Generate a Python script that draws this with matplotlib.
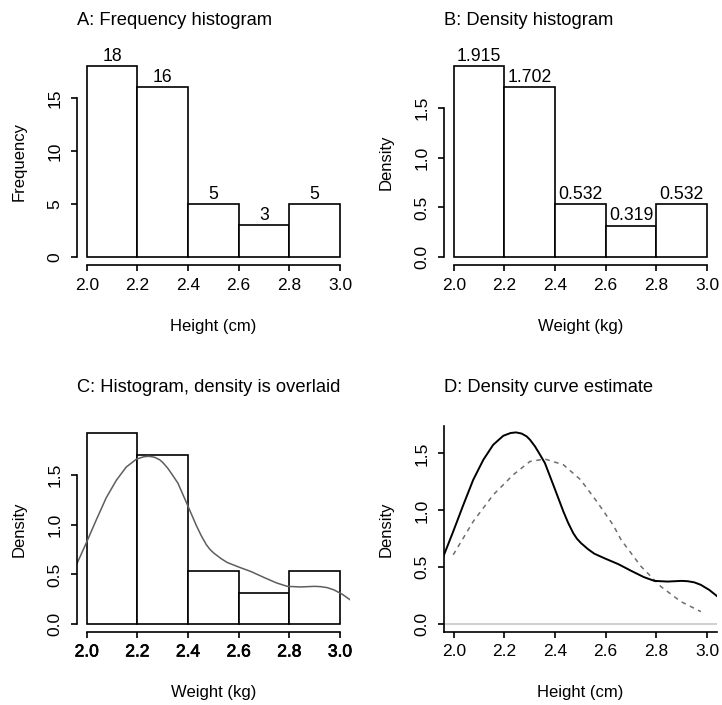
import matplotlib
matplotlib.use('Agg')
import matplotlib.pyplot as plt
import matplotlib.patheffects as pe

### data ###
bin_edges = [2.0, 2.2, 2.4, 2.6, 2.8, 3.0]
counts = [18, 16, 5, 3, 5]
densities = [1.915, 1.702, 0.532, 0.319, 0.532]

# kernel density estimate
kde_x = [1.959, 1.998, 2.038, 2.077, 2.117, 2.156, 2.196, 2.225, 2.246, 2.268, 2.288,
         2.301, 2.321, 2.340, 2.360, 2.393, 2.433, 2.452, 2.472, 2.487, 2.503, 2.530,
         2.555, 2.600, 2.650, 2.700, 2.750, 2.792, 2.845, 2.900, 2.924, 2.950, 2.976,
         3.010, 3.042]
kde_y = [0.595, 0.815, 1.049, 1.269, 1.445, 1.577, 1.656, 1.680, 1.685, 1.675, 1.650,
         1.621, 1.562, 1.492, 1.416, 1.225, 0.990, 0.890, 0.800, 0.750, 0.712, 0.660,
         0.620, 0.575, 0.528, 0.470, 0.415, 0.381, 0.375, 0.381, 0.378, 0.368, 0.346,
         0.300, 0.243]

# normal curve (dashed)
norm_x = [1.998, 2.077, 2.156, 2.235, 2.301, 2.360, 2.433, 2.501, 2.565, 2.630,
          2.661, 2.740, 2.818, 2.897, 2.976]
norm_y = [0.610, 0.903, 1.137, 1.313, 1.430, 1.451, 1.401, 1.269, 1.078, 0.870,
          0.741, 0.507, 0.331, 0.199, 0.111]

xticks = [2.0, 2.2, 2.4, 2.6, 2.8, 3.0]
dens_ticks = [0.0, 0.5, 1.0, 1.5]
freq_ticks = [0, 5, 10, 15]

### plotting parameters ###
plt.rcParams['font.family'] = ['Liberation Sans', 'DejaVu Sans']
fs = 12
fstick = 12.5
fsbar = 12.7
fstitle = 13.2
lw = 1.2
W, H = 722.0, 705.0

def make_ax(fig, left_px, top_px, right_px, bottom_px):
    return fig.add_axes([left_px / W, 1 - bottom_px / H,
                         (right_px - left_px) / W, (bottom_px - top_px) / H])

def r_style(ax, ylim, yticks, ylabels, ylab, xlab, title, bounded=True):
    ax.set_xlim(1.96, 3.04)
    ax.set_ylim(ylim)
    ax.spines['top'].set_visible(False)
    ax.spines['right'].set_visible(False)
    for sp in ['left', 'bottom']:
        ax.spines[sp].set_linewidth(lw)
    if bounded:
        ax.spines['left'].set_bounds(yticks[0], yticks[-1])
        ax.spines['bottom'].set_bounds(xticks[0], xticks[-1])
    ax.set_xticks(xticks)
    ax.set_xticklabels(['%.1f' % t for t in xticks])
    ax.set_yticks(yticks)
    ax.set_yticklabels(ylabels, rotation=90, va='center')
    ax.tick_params(axis='both', direction='out', length=4, width=lw, labelsize=fstick)
    ax.tick_params(axis='x', pad=5)
    ax.tick_params(axis='y', pad=6)
    ax.set_ylabel(ylab, fontsize=fs, va='center')
    ax.yaxis.set_label_coords(-0.211, 0.5)
    ax.set_xlabel(xlab, fontsize=fs, va='center')
    ax.xaxis.set_label_coords(0.5, -0.2955)
    ax.set_title(title, loc='left', fontsize=fstitle, y=1.186, pad=0, va='center')

fig = plt.figure(figsize=(7.22, 7.05), dpi=100)

widths = [b - a for a, b in zip(bin_edges[:-1], bin_edges[1:])]
mids = [(a + b) / 2 for a, b in zip(bin_edges[:-1], bin_edges[1:])]

# A: frequency histogram
ax1 = make_ax(fig, 76.6, 58.5, 350.1, 265.0)
ax1.bar(bin_edges[:-1], counts, width=widths, align='edge', color='white', edgecolor='black', linewidth=lw)
for x, c in zip(mids, counts):
    ax1.annotate(str(c), xy=(x, c), xytext=(0, 7), textcoords='offset points', ha='center', va='center', fontsize=fsbar)
r_style(ax1, (-0.72, 18.72), freq_ticks, [str(t) for t in freq_ticks], 'Frequency', 'Height (cm)', 'A: Frequency histogram')

# B: density histogram
ax2 = make_ax(fig, 443.6, 58.5, 717.1, 265.0)
ax2.bar(bin_edges[:-1], densities, width=widths, align='edge', color='white', edgecolor='black', linewidth=lw)
for x, d in zip(mids, densities):
    ax2.annotate('%.3f' % d, xy=(x, d), xytext=(0, 7), textcoords='offset points', ha='center', va='center', fontsize=fsbar)
r_style(ax2, (-0.0766, 1.9916), dens_ticks, ['%.1f' % t for t in dens_ticks], 'Density', 'Weight (kg)', 'B: Density histogram')

# C: histogram with density overlaid
ax3 = make_ax(fig, 76.6, 425.7, 350.1, 632.0)
ax3.bar(bin_edges[:-1], densities, width=widths, align='edge', color='white', edgecolor='black', linewidth=lw)
ax3.plot(kde_x, kde_y, color='#5e5e5e', linewidth=1.1)
r_style(ax3, (-0.0766, 1.9916), dens_ticks, ['%.1f' % t for t in dens_ticks], 'Density', 'Weight (kg)', 'C: Histogram, density is overlaid')
for lab in ax3.get_xticklabels():
    lab.set_path_effects([pe.withStroke(linewidth=0.5, foreground='black')])

# D: density curve estimate
ax4 = make_ax(fig, 443.6, 425.7, 717.1, 632.0)
ax4.axhline(0, color='#c8c8c8', linewidth=1.2)
ax4.plot(norm_x, norm_y, color='#6e6e6e', linewidth=1.1, dashes=(3, 3))
ax4.plot(kde_x, kde_y, color='black', linewidth=1.4)
r_style(ax4, (-0.068, 1.744), dens_ticks, ['%.1f' % t for t in dens_ticks], 'Density', 'Height (cm)', 'D: Density curve estimate', bounded=False)

plt.savefig('out.png', dpi=100)
plt.close()
